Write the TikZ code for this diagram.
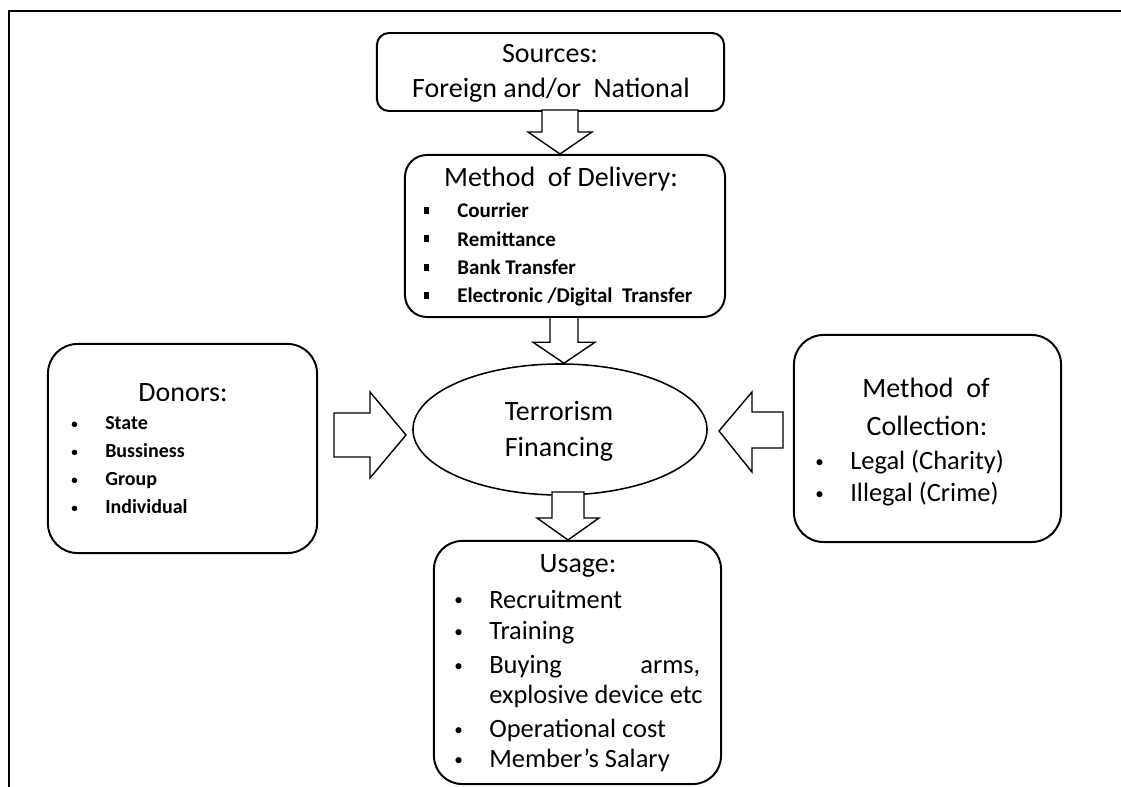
\documentclass[tikz,border=0pt]{standalone}
\usepackage{fontspec}
\setmainfont{Carlito}
\usetikzlibrary{shapes.geometric}

% font sizes (1px = 0.025cm)
\newcommand\ttlsize{\fontsize{19.9}{24}\selectfont}
\newcommand\usesize{\fontsize{18.8}{23}\selectfont}
\newcommand\delsize{\fontsize{14.9}{18}\selectfont}
\newcommand\donsize{\fontsize{14.2}{17}\selectfont}
\newcommand\sqb{\rule[0.1cm]{0.13cm}{0.17cm}}
\newcommand\rbul[1]{\raisebox{#1}{\scalebox{0.65}{•}}}

\tikzset{
  box/.style={draw, line width=1.4pt, rounded corners=#1, inner sep=0pt},
  txt/.style={inner sep=0pt, anchor=base},
  item/.style={inner sep=0pt, anchor=base west},
  fatarrow/.style={draw, line width=1pt, fill=white, line join=miter}
}

\begin{document}
\begin{tikzpicture}[x=0.025cm, y=-0.025cm]
	\useasboundingbox (0,0) rectangle (1121,787);

	% frame
	\draw[line width=2pt] (1121,11) -- (9,11) -- (9,787);

	% boxes
	\node[box=8.5pt, minimum width=8.675cm, minimum height=1.95cm] (src) at (550.5,72) {};
	\node[box=15.6pt, minimum width=8cm, minimum height=4.05cm] (del) at (565,236) {};
	\node[box=21pt, minimum width=6.725cm, minimum height=5.225cm] (don) at (182.5,448.5) {};
	\node[box=21pt, minimum width=6.675cm, minimum height=5.175cm] (col) at (927.5,438.5) {};
	\node[box=20pt, minimum width=7.175cm, minimum height=6.075cm] (use) at (577.5,662.5) {};
	\node[draw, ellipse, line width=1.1pt, inner sep=0pt, minimum width=7.35cm, minimum height=3.275cm] (tf) at (560,429.5) {};

	% sources
	\node[txt, font=\ttlsize] (srct) at (550,63) {Sources:};
	\node[txt, font=\ttlsize] (srcl) at (551,98) {Foreign and/or\ \ National};

	% delivery
	\node[txt, font=\ttlsize] (delt) at (561,187) {Method\ \ of Delivery:};
	\foreach \t [count=\i] in {Courrier, Remittance, Bank Transfer, Electronic /Digital\ \ Transfer}
		\node[item, font=\delsize\bfseries] (del\i) at (424,{218+28.3*(\i-1)}) {\makebox[0.825cm][l]{\sqb}\t};

	% terrorism financing
	\node[txt, font=\ttlsize] (tf1) at (559,421) {Terrorism};
	\node[txt, font=\ttlsize] (tf2) at (559,457) {Financing};

	% donors
	\node[txt, font=\ttlsize] (dont) at (183,402) {Donors:};
	\foreach \t [count=\i] in {State, Bussiness, Group, Individual}
		\node[item, font=\donsize\bfseries] (don\i) at (71,{430+28*(\i-1)}) {\makebox[0.85cm][l]{\rbul{0.04cm}}\t};

	% collection
	\node[txt, font=\ttlsize] (colt1) at (926,398) {Method\ \ of};
	\node[txt, font=\ttlsize] (colt2) at (927,436) {Collection:};
	\node[item, font=\usesize] (col1) at (815,470) {\makebox[0.875cm][l]{\rbul{0.05cm}}Legal (Charity)};
	\node[item, font=\usesize] (col2) at (815,502) {\makebox[0.875cm][l]{\rbul{0.05cm}}Illegal (Crime)};

	% usage
	\node[txt, font=\ttlsize] (uset) at (578,573) {Usage:};
	\foreach \y/\t in {608/Recruitment, 640/Training, 737/Operational cost, 767/Member’s Salary}
		\node[item, font=\usesize] (use\y) at (454,\y) {\makebox[0.875cm][l]{\rbul{0.05cm}}\t};
	\node[item, font=\usesize] (use673) at (454,673) {\makebox[0.875cm][l]{\rbul{0.05cm}}\makebox[5.275cm]{Buying\hfill arms,}};
	\node[item, font=\usesize] (use703) at (489,703) {explosive device etc};

	% block arrows
	\draw[fatarrow] (del.north -| 560,0) -- ++(-32,-22) -- ++(14,0) -- ++(0,-22) -- ++(36,0) -- ++(0,22) -- ++(14,0) -- cycle;
	\draw[fatarrow] (tf.north -| 564,0) -- ++(-31,-21) -- ++(17,0) -- ++(0,-25) -- ++(28,0) -- ++(0,25) -- ++(17,0) -- cycle;
	\draw[fatarrow] (use.north -| 568,0) -- ++(-31,-22) -- ++(15,0) -- ++(0,-26) -- ++(32,0) -- ++(0,26) -- ++(15,0) -- cycle;
	\draw[fatarrow] (406,435) -- (370,392) -- (370,413) -- (334,413) -- (334,457) -- (370,457) -- (370,478) -- cycle;
	\draw[fatarrow] (719,431) -- (752,392) -- (752,412) -- (783,412) -- (783,448) -- (752,448) -- (752,472) -- cycle;
\end{tikzpicture}
\end{document}
